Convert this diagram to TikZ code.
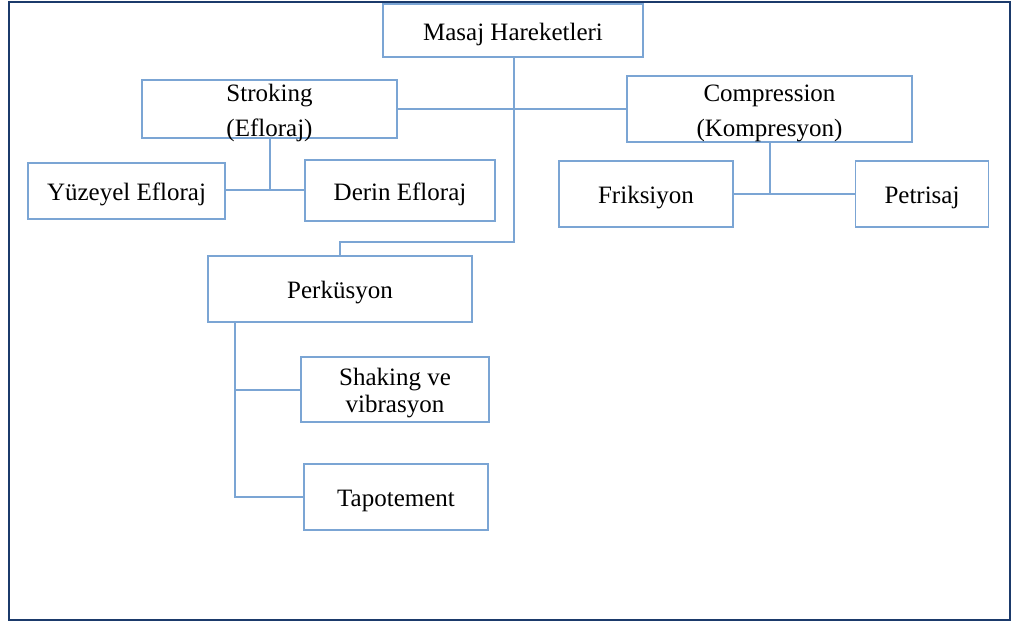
\documentclass[tikz,border=0pt]{standalone}
\usepackage{fontspec}
\setmainfont{Liberation Serif}
\definecolor{boxblue}{HTML}{7BA5D4}
\definecolor{framenavy}{HTML}{1B3A6B}
\newcommand{\upstrut}{\rule{0pt}{25pt}}
\begin{document}
\begin{tikzpicture}[x=1pt,y=-1pt,
  box/.style={draw=boxblue,line width=1.8pt,fill=white,inner sep=0pt,align=center,
    font=\fontsize{25}{35}\selectfont},
  oneline/.style={text height=25pt,text depth=5.2pt},
  boxtext/.style={inner sep=0pt,align=center,font=\fontsize{25}{35}\selectfont,yshift=-4pt},
  link/.style={draw=boxblue,line width=1.8pt}]
\useasboundingbox (0,0) rectangle (1014,623);
\draw[framenavy,line width=2.2pt] (9,2) rectangle (1010,620);
% nodes
\node[box,oneline,minimum width=260pt,minimum height=53pt] (top) at (513,30.5) {Masaj Hareketleri};
\node[box,minimum width=255pt,minimum height=58pt,
  label={[boxtext,name=strktext]center:Stroking\\(Efloraj)}] (strk) at (269.5,109) {};
\node[box,minimum width=285pt,minimum height=66pt] (comp) at (769.5,109) {\upstrut Compression\\(Kompresyon)};
\node[box,oneline,minimum width=197pt,minimum height=56pt] (yuz) at (126.5,191) {Yüzeyel Efloraj};
\node[box,oneline,minimum width=190pt,minimum height=61pt] (derin) at (400,190.5) {Derin Efloraj};
\node[box,oneline,minimum width=174pt,minimum height=66pt] (frik) at (646,194) {Friksiyon};
\node[box,oneline,minimum width=133pt,minimum height=66pt] (petr) at (922,194) {Petrisaj};
\node[box,oneline,minimum width=264pt,minimum height=66pt] (perk) at (340,289) {Perküsyon};
\node[box,minimum width=188pt,minimum height=65pt,font=\fontsize{25}{27}\selectfont] (shak) at (395,389.5) {\upstrut Shaking ve\\vibrasyon};
\node[box,oneline,minimum width=184pt,minimum height=66pt] (tap) at (396,497) {Tapotement};
% junctions
\coordinate (jt) at (514,242);
\coordinate (js) at (270,190);
\coordinate (jc) at (770,194);
\coordinate (jp1) at (235,390);
\coordinate (jp2) at (235,497);
% connectors
\draw[link] (top.south -| jt) -- (jt) -- (jt -| perk.north) -- (perk.north);
\draw[link] (strk.east) -- (comp.west);
\draw[link] (strk.south -| js) -- (js);
\draw[link] (yuz.east |- js) -- (derin.west |- js);
\draw[link] (comp.south -| jc) -- (jc);
\draw[link] (frik.east |- jc) -- (petr.west |- jc);
\draw[link] (perk.south -| jp1) -- (jp2) -- (tap.west |- jp2);
\draw[link] (jp1) -- (shak.west |- jp1);
\end{tikzpicture}
\end{document}
